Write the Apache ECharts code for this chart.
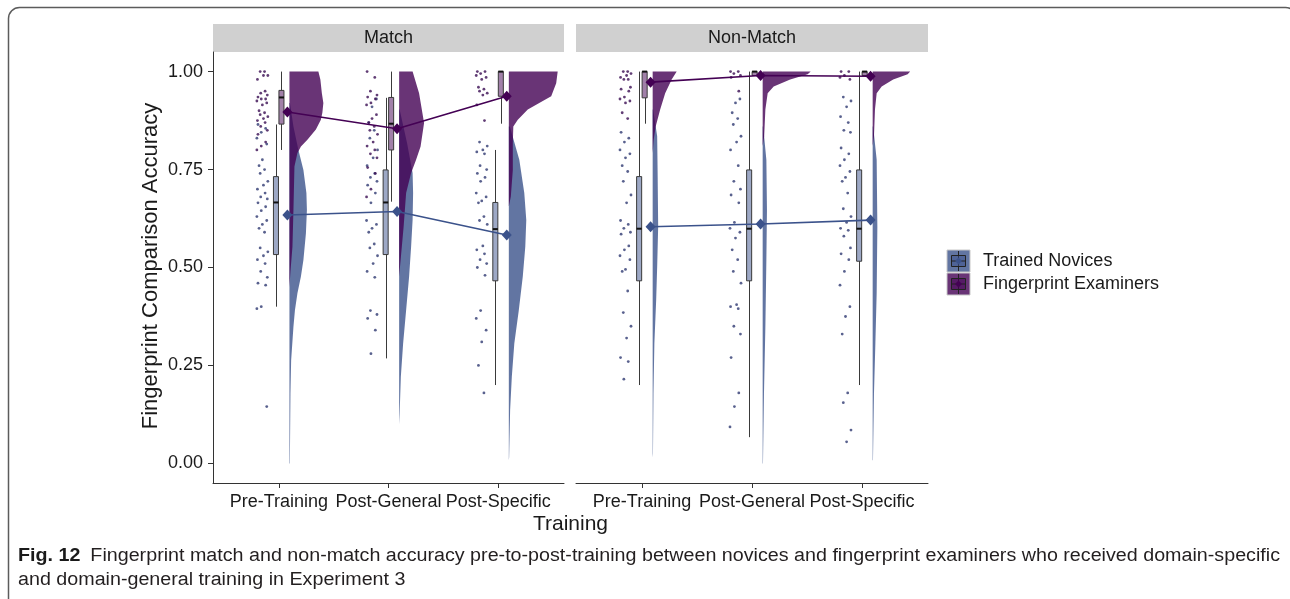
<!DOCTYPE html>
<html>
<head>
<meta charset="utf-8">
<script src="https://cdn.jsdelivr.net/npm/echarts@6/dist/echarts.min.js"></script>
<style>
  html, body { margin: 0; padding: 0; background: #ffffff; }
  #chart { width: 1290px; height: 599px; }
</style>
</head>
<body>
<div id="chart"></div>
<script>
// ---------------- data ----------------
const CATEGORIES = ['Pre-Training', 'Post-General', 'Post-Specific'];
const PANELS = ['Match', 'Non-Match'];
const GROUPS = ['Trained Novices', 'Fingerprint Examiners'];
const Y_TICKS = [0, 0.25, 0.5, 0.75, 1];

// group means per training stage
const MEAN_MATCH_NOVICE = [0.634, 0.643, 0.583];
const MEAN_MATCH_EXAMINER = [0.897, 0.854, 0.937];
const MEAN_NONMATCH_NOVICE = [0.604, 0.611, 0.621];
const MEAN_NONMATCH_EXAMINER = [0.973, 0.990, 0.988];

// box statistics per stage: [lower whisker, Q1, median, Q3, upper whisker]
const BOX_MATCH_NOVICE = [[0.40, 0.533, 0.666, 0.732, 0.865], [0.268, 0.533, 0.666, 0.749, 0.933], [0.20, 0.466, 0.598, 0.666, 0.80]];
const BOX_MATCH_EXAMINER = [[0.80, 0.866, 0.934, 0.952, 1.0], [0.668, 0.80, 0.867, 0.934, 1.0], [0.867, 0.937, 1.0, 1.0, 1.0]];
const BOX_NONMATCH_NOVICE = [[0.20, 0.466, 0.599, 0.732, 1.0], [0.067, 0.466, 0.599, 0.749, 1.0], [0.20, 0.516, 0.599, 0.749, 1.0]];
const BOX_NONMATCH_EXAMINER = [[0.867, 0.933, 1.0, 1.0, 1.0], [0.99, 0.99, 1.0, 1.0, 1.0], [0.99, 0.99, 1.0, 1.0, 1.0]];

// density profiles per stage: [accuracy, density]
const VIOLIN_MATCH_NOVICE = [
  [[0.92, 0.01], [0.86, 0.08], [0.80, 0.18], [0.749, 0.28], [0.69, 0.34], [0.647, 0.35], [0.587, 0.33], [0.519, 0.28], [0.477, 0.23], [0.434, 0.16], [0.391, 0.11], [0.349, 0.08], [0.263, 0.034], [0.178, 0.02], [0.0, 0.008]],
  [[0.903, 0.01], [0.817, 0.16], [0.741, 0.27], [0.69, 0.28], [0.621, 0.27], [0.553, 0.24], [0.477, 0.20], [0.391, 0.14], [0.306, 0.08], [0.221, 0.034], [0.127, 0.01], [0.10, 0.0]],
  [[0.86, 0.02], [0.775, 0.21], [0.69, 0.31], [0.621, 0.35], [0.553, 0.33], [0.477, 0.28], [0.391, 0.20], [0.306, 0.11], [0.221, 0.06], [0.136, 0.026], [0.016, 0.006], [0.008, 0.0]]
];
const VIOLIN_MATCH_EXAMINER = [
  [[1.0, 0.58], [0.98, 0.62], [0.945, 0.65], [0.92, 0.68], [0.895, 0.66], [0.877, 0.63], [0.852, 0.53], [0.826, 0.36], [0.809, 0.23], [0.792, 0.16], [0.758, 0.10], [0.647, 0.08], [0.553, 0.06], [0.49, 0.02], [0.45, 0.0]],
  [[1.0, 0.27], [0.945, 0.40], [0.869, 0.50], [0.809, 0.43], [0.775, 0.34], [0.741, 0.24], [0.69, 0.14], [0.604, 0.09], [0.527, 0.035], [0.477, 0.0]],
  [[1.0, 0.98], [0.97, 0.95], [0.937, 0.85], [0.92, 0.61], [0.903, 0.38], [0.877, 0.18], [0.86, 0.09], [0.817, 0.08], [0.749, 0.08], [0.681, 0.04], [0.656, 0.0]]
];
const VIOLIN_NONMATCH_NOVICE = [
  [[0.903, 0.01], [0.835, 0.09], [0.732, 0.10], [0.604, 0.11], [0.502, 0.09], [0.417, 0.07], [0.306, 0.034], [0.178, 0.016], [0.025, 0.006], [0.015, 0.0]],
  [[0.86, 0.01], [0.775, 0.074], [0.647, 0.086], [0.519, 0.074], [0.349, 0.054], [0.178, 0.026], [0.0, 0.006]],
  [[0.86, 0.01], [0.775, 0.08], [0.604, 0.094], [0.434, 0.08], [0.306, 0.054], [0.178, 0.026], [0.008, 0.006]]
];
const VIOLIN_NONMATCH_EXAMINER = [
  [[1.0, 0.48], [0.98, 0.38], [0.945, 0.25], [0.903, 0.15], [0.86, 0.06], [0.826, 0.02], [0.792, 0.0]],
  [[1.0, 0.96], [0.993, 0.90], [0.98, 0.55], [0.962, 0.22], [0.945, 0.10], [0.903, 0.054], [0.835, 0.03], [0.81, 0.0]],
  [[1.0, 0.75], [0.993, 0.70], [0.98, 0.41], [0.962, 0.18], [0.945, 0.08], [0.903, 0.046], [0.835, 0.026], [0.81, 0.0]]
];

// individual participant accuracies per stage
const PTS_MATCH_NOVICE = [
  [0.865, 0.855, 0.845, 0.83, 0.815, 0.775, 0.76, 0.75, 0.74, 0.72, 0.71, 0.70, 0.69, 0.68, 0.675, 0.665, 0.655, 0.645, 0.63, 0.62, 0.61, 0.60, 0.59, 0.55, 0.54, 0.53, 0.52, 0.51, 0.49, 0.475, 0.46, 0.455, 0.40, 0.395, 0.145],
  [0.93, 0.91, 0.87, 0.85, 0.83, 0.80, 0.78, 0.76, 0.74, 0.73, 0.72, 0.71, 0.69, 0.665, 0.62, 0.61, 0.60, 0.59, 0.56, 0.55, 0.53, 0.51, 0.49, 0.475, 0.39, 0.38, 0.37, 0.34, 0.28],
  [0.82, 0.81, 0.80, 0.795, 0.79, 0.76, 0.75, 0.74, 0.73, 0.72, 0.69, 0.68, 0.67, 0.665, 0.63, 0.62, 0.61, 0.555, 0.545, 0.535, 0.52, 0.51, 0.50, 0.48, 0.39, 0.37, 0.34, 0.31, 0.25, 0.18]
];
const PTS_MATCH_EXAMINER = [
  [1.0, 1.0, 0.99, 0.99, 0.98, 0.95, 0.945, 0.94, 0.935, 0.93, 0.93, 0.925, 0.92, 0.915, 0.90, 0.895, 0.89, 0.885, 0.88, 0.875, 0.87, 0.86, 0.85, 0.84, 0.82, 0.81, 0.80],
  [1.0, 0.985, 0.95, 0.94, 0.935, 0.93, 0.92, 0.915, 0.89, 0.88, 0.87, 0.86, 0.85, 0.84, 0.82, 0.81, 0.80, 0.79, 0.78, 0.755, 0.74, 0.70, 0.68],
  [1.0, 1.0, 0.995, 0.99, 0.985, 0.98, 0.96, 0.955, 0.95, 0.945, 0.94, 0.915, 0.875]
];
const PTS_NONMATCH_NOVICE = [
  [0.845, 0.83, 0.82, 0.80, 0.79, 0.78, 0.76, 0.745, 0.72, 0.685, 0.665, 0.62, 0.61, 0.60, 0.59, 0.585, 0.555, 0.545, 0.53, 0.52, 0.495, 0.49, 0.44, 0.385, 0.35, 0.32, 0.27, 0.26, 0.215],
  [0.93, 0.92, 0.895, 0.88, 0.865, 0.835, 0.82, 0.80, 0.76, 0.72, 0.70, 0.685, 0.665, 0.615, 0.60, 0.59, 0.575, 0.545, 0.52, 0.49, 0.46, 0.405, 0.40, 0.395, 0.35, 0.33, 0.27, 0.18, 0.145, 0.093],
  [0.935, 0.925, 0.91, 0.885, 0.87, 0.85, 0.845, 0.805, 0.79, 0.775, 0.76, 0.745, 0.73, 0.72, 0.69, 0.65, 0.63, 0.615, 0.60, 0.595, 0.58, 0.55, 0.535, 0.52, 0.49, 0.455, 0.40, 0.375, 0.33, 0.18, 0.155, 0.085, 0.055]
];
const PTS_NONMATCH_EXAMINER = [
  [1.0, 1.0, 0.995, 0.99, 0.985, 0.98, 0.98, 0.96, 0.955, 0.95, 0.935, 0.93, 0.925, 0.92, 0.895, 0.88],
  [1.0, 1.0, 0.995, 0.99, 0.985, 0.95],
  [1.0, 1.0, 0.99, 0.985, 0.98]
];

// horizontal spread of the raw points (category units, left of each stage)
const JITTER = [-0.19, -0.12, -0.16, -0.2, -0.11, -0.15, -0.18, -0.13, -0.17, -0.1, -0.14, -0.195, -0.125, -0.165, -0.105];

// ---------------- styling ----------------
const FONT = 'Liberation Sans, Arial, sans-serif';
const COLORS = ['#3B528B', '#440154'];
const VIOLIN_FILL = ['rgba(59,82,139,0.8)', 'rgba(68,1,84,0.8)'];
const BOX_FILL = ['rgba(59,82,139,0.5)', 'rgba(68,1,84,0.5)'];
const POINT_COLORS = ['#2f3a72', '#3a0d52'];
const VIOLIN_OFFSET = 0.097;
const VIOLIN_SCALE = 50 / 110;
const MEAN_OFFSET = 0.078;
const BOX_DODGE = [-0.026, 0.024];
const BOX_HALF = 0.023;

const MEANS = [[MEAN_MATCH_NOVICE, MEAN_MATCH_EXAMINER], [MEAN_NONMATCH_NOVICE, MEAN_NONMATCH_EXAMINER]];
const BOXES = [[BOX_MATCH_NOVICE, BOX_MATCH_EXAMINER], [BOX_NONMATCH_NOVICE, BOX_NONMATCH_EXAMINER]];
const VIOLINS = [[VIOLIN_MATCH_NOVICE, VIOLIN_MATCH_EXAMINER], [VIOLIN_NONMATCH_NOVICE, VIOLIN_NONMATCH_EXAMINER]];
const POINTS = [[PTS_MATCH_NOVICE, PTS_MATCH_EXAMINER], [PTS_NONMATCH_NOVICE, PTS_NONMATCH_EXAMINER]];

const chart = echarts.init(document.getElementById('chart'), null, { renderer: 'canvas' });

function violinSeries(p, g) {
  const profiles = VIOLINS[p][g];
  return {
    type: 'custom', xAxisIndex: p, yAxisIndex: p, silent: true, z: 2 + g,
    data: CATEGORIES.map((_, c) => [c + 1]),
    renderItem: (params, api) => {
      const c = params.dataIndex;
      const prof = profiles[c];
      const base = c + 1 + VIOLIN_OFFSET;
      const pts = prof.map(([v, d]) => api.coord([base + d * VIOLIN_SCALE, v]));
      pts.push(api.coord([base, prof[prof.length - 1][0]]));
      pts.push(api.coord([base, prof[0][0]]));
      return { type: 'polygon', shape: { points: pts }, style: { fill: VIOLIN_FILL[g], stroke: null } };
    }
  };
}

function boxSeries(p, g) {
  const stats = BOXES[p][g];
  return {
    type: 'custom', xAxisIndex: p, yAxisIndex: p, silent: true, z: 6,
    data: CATEGORIES.map((_, c) => [c + 1]),
    renderItem: (params, api) => {
      const c = params.dataIndex;
      const [lo, q1, md, q3, hi] = stats[c];
      const xc = c + 1 + BOX_DODGE[g];
      const cx = Math.round(api.coord([xc, 0])[0]) + 0.5;
      const xl = api.coord([xc - BOX_HALF, 0])[0];
      const xr = api.coord([xc + BOX_HALF, 0])[0];
      const yHi = api.coord([xc, hi])[1], yQ3 = api.coord([xc, q3])[1];
      const yMd = api.coord([xc, md])[1], yQ1 = api.coord([xc, q1])[1];
      const yLo = api.coord([xc, lo])[1];
      const line = { stroke: '#3a3a3a', lineWidth: 1 };
      return {
        type: 'group',
        children: [
          { type: 'line', shape: { x1: cx, y1: yHi, x2: cx, y2: yQ3 }, style: line },
          { type: 'line', shape: { x1: cx, y1: yQ1, x2: cx, y2: yLo }, style: line },
          { type: 'rect', shape: { x: xl, y: yQ3, width: xr - xl, height: Math.max(yQ1 - yQ3, 0.8) },
            style: { fill: BOX_FILL[g], stroke: '#3a3a3a', lineWidth: 1 } },
          { type: 'line', shape: { x1: xl, y1: yMd, x2: xr, y2: yMd }, style: { stroke: '#111', lineWidth: 2 } }
        ]
      };
    }
  };
}

function pointSeries(p, g) {
  const data = [];
  POINTS[p][g].forEach((vals, c) => {
    vals.forEach((v, i) => {
      data.push([c + 1 + JITTER[(i + c * 4 + g * 7) % JITTER.length], v]);
    });
  });
  return {
    type: 'scatter', xAxisIndex: p, yAxisIndex: p, silent: true, z: 4,
    symbol: 'circle', symbolSize: 2.8, data,
    itemStyle: { color: POINT_COLORS[g] }
  };
}

function meanSeries(p, g) {
  return {
    type: 'line', xAxisIndex: p, yAxisIndex: p, silent: true, z: 8,
    data: MEANS[p][g].map((m, c) => [c + 1 + MEAN_OFFSET, m]),
    symbol: 'diamond', symbolSize: [10, 11], showSymbol: true,
    lineStyle: { color: COLORS[g], width: 1.6 },
    itemStyle: { color: COLORS[g] }
  };
}

const axisText = { fontFamily: FONT, fontSize: 18, color: '#1a1a1a' };

function xAxis(p) {
  return {
    type: 'value', gridIndex: p, min: 0.4, max: 3.6,
    axisLine: { show: true, onZero: false, lineStyle: { color: '#333', width: 1 } },
    axisTick: { show: true, customValues: [1, 2, 3], length: 5, lineStyle: { color: '#333' } },
    axisLabel: Object.assign({ customValues: [1, 2, 3], margin: 10, hideOverlap: false,
      formatter: v => CATEGORIES[Math.round(v) - 1] }, axisText),
    splitLine: { show: false }
  };
}
function yAxis(p) {
  return {
    type: 'value', gridIndex: p, min: -0.05, max: 1.05,
    axisLine: { show: p === 0, onZero: false, lineStyle: { color: '#333', width: 1 } },
    axisTick: { show: p === 0, customValues: Y_TICKS, length: 5, lineStyle: { color: '#333' } },
    axisLabel: Object.assign({ show: p === 0, customValues: Y_TICKS, margin: 10,
      formatter: v => v.toFixed(2) }, axisText),
    splitLine: { show: false }
  };
}

const series = [];
[0, 1].forEach(p => {
  series.push(violinSeries(p, 0), violinSeries(p, 1));
  series.push(pointSeries(p, 0), pointSeries(p, 1));
  series.push(boxSeries(p, 0), boxSeries(p, 1));
  series.push(meanSeries(p, 0), meanSeries(p, 1));
});

// caption, condensed to the printed width
const CAPTION_BOLD = 'Fig. 12';
const CAPTION_LINE1 = 'Fingerprint match and non-match accuracy pre-to-post-training between novices and fingerprint examiners who received domain-specific';
const CAPTION_LINE2 = 'and domain-general training in Experiment 3';
const capFont = '18px "Liberation Sans"';
const capBoldFont = 'bold 18px "Liberation Sans"';
const ctx = document.createElement('canvas').getContext('2d');
ctx.font = capBoldFont; const wBold = ctx.measureText(CAPTION_BOLD).width;
ctx.font = capFont; const wLine1 = ctx.measureText(CAPTION_LINE1).width;
const capGap = 10;
const capScale = (1262 - capGap) / (wBold + wLine1);

const graphics = [
  { type: 'rect', silent: true, shape: { x: 8.5, y: 7.5, width: 1288, height: 620, r: 11 },
    style: { fill: 'none', stroke: '#5c5c5c', lineWidth: 1.5 } },
  // facet strips
  { type: 'rect', silent: true, shape: { x: 213, y: 24, width: 351, height: 28 }, style: { fill: '#D0D0D0' } },
  { type: 'text', silent: true, x: 388.5, y: 38, style: { text: PANELS[0], font: '18px ' + FONT, fill: '#1a1a1a', align: 'center', verticalAlign: 'middle' } },
  { type: 'rect', silent: true, shape: { x: 576, y: 24, width: 352, height: 28 }, style: { fill: '#D0D0D0' } },
  { type: 'text', silent: true, x: 752, y: 38, style: { text: PANELS[1], font: '18px ' + FONT, fill: '#1a1a1a', align: 'center', verticalAlign: 'middle' } },
  // axis titles
  { type: 'text', silent: true, x: 151, y: 266, rotation: Math.PI / 2,
    style: { text: 'Fingerprint Comparison Accuracy', font: '22px ' + FONT, fill: '#1a1a1a', align: 'center', verticalAlign: 'middle' } },
  { type: 'text', silent: true, x: 570.5, y: 524,
    style: { text: 'Training', font: '21px ' + FONT, fill: '#1a1a1a', align: 'center', verticalAlign: 'middle' } },
  // caption
  { type: 'text', silent: true, x: 18, y: 556, scaleX: capScale,
    style: { text: CAPTION_BOLD, font: capBoldFont, fill: '#1a1a1a', align: 'left', verticalAlign: 'middle' } },
  { type: 'text', silent: true, x: 18 + wBold * capScale + capGap, y: 556, scaleX: capScale,
    style: { text: CAPTION_LINE1, font: capFont, fill: '#231f20', align: 'left', verticalAlign: 'middle' } },
  { type: 'text', silent: true, x: 18, y: 580, scaleX: capScale,
    style: { text: CAPTION_LINE2, font: capFont, fill: '#231f20', align: 'left', verticalAlign: 'middle' } }
];

// legend keys: filled square with a small box-and-mean glyph
GROUPS.forEach((name, g) => {
  const y0 = 250 + g * 23;
  graphics.push(
    { type: 'rect', silent: true, shape: { x: 947, y: y0, width: 23, height: 22 }, style: { fill: VIOLIN_FILL[g], stroke: '#c8c8c8', lineWidth: 1 } },
    { type: 'line', silent: true, shape: { x1: 958.5, y1: y0 + 1, x2: 958.5, y2: y0 + 21 }, style: { stroke: '#222', lineWidth: 1 } },
    { type: 'rect', silent: true, shape: { x: 951.5, y: y0 + 5.5, width: 14, height: 11 }, style: { fill: BOX_FILL[g], stroke: '#222', lineWidth: 1 } },
    { type: 'line', silent: true, shape: { x1: 951.5, y1: y0 + 11, x2: 965.5, y2: y0 + 11 }, style: { stroke: '#222', lineWidth: 1 } },
    { type: 'polygon', silent: true, shape: { points: [[958.5, y0 + 7.5], [962, y0 + 11], [958.5, y0 + 14.5], [955, y0 + 11]] }, style: { fill: COLORS[g] } },
    { type: 'text', silent: true, x: 983, y: y0 + 11.5, style: { text: name, font: '18px ' + FONT, fill: '#1a1a1a', align: 'left', verticalAlign: 'middle' } }
  );
});

chart.setOption({
  backgroundColor: '#ffffff',
  animation: false,
  grid: [
    { left: 213, top: 52, width: 351, height: 431 },
    { left: 576, top: 52, width: 352, height: 431 }
  ],
  xAxis: [xAxis(0), xAxis(1)],
  yAxis: [yAxis(0), yAxis(1)],
  series,
  graphic: graphics
});
</script>
</body>
</html>
